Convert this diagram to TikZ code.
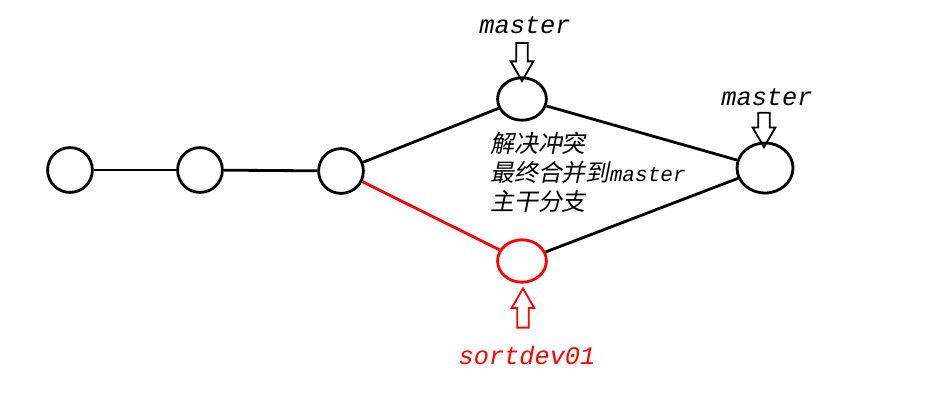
\documentclass[tikz,border=0pt]{standalone}
\usepackage{fontspec}
\setmonofont{Liberation Mono}
\newfontfamily\cjk[FakeSlant=0.2]{Noto Sans CJK SC}
\usetikzlibrary{shapes.geometric,shapes.arrows}

\tikzset{
  commit/.style={draw, ellipse, line width=2pt, inner sep=0pt, minimum width=1.12cm, minimum height=1.12cm},
  branch/.style={font=\ttfamily\itshape\fontsize{18}{20}\selectfont},
  pointer/.style={draw, single arrow, line width=1.3pt, inner sep=0.12cm,
    minimum height=0.95cm, minimum width=0.53cm, single arrow head extend=0.14cm,
    single arrow tip angle=60}
}

\begin{document}
\begin{tikzpicture}[x=0.025cm, y=-0.025cm]
            \useasboundingbox (0,0) rectangle (950,400);

            % Commits
            \node[commit] (c1) at (70,170) {};
            \node[commit] (c2) at (200,170) {};
            \node[commit] (c3) at (341,171) {};
            \node[commit, minimum width=1.22cm, minimum height=1.06cm] (top) at (522,99) {};
            \node[commit, draw=red, minimum width=1.22cm, minimum height=1.06cm] (dev) at (522,261) {};
            \node[commit, minimum width=1.4cm, minimum height=1.25cm] (merge) at (765,168) {};

            % Edges
            \draw[line width=2pt] (c1) -- (c2);
            \draw[line width=2pt] (c2) -- (c3);
            \draw[line width=2pt] (c3) -- (top);
            \draw[line width=2pt] (top) -- (merge);
            \draw[line width=2pt, red] (c3) -- (dev);
            \draw[line width=2pt] (dev) -- (merge);

            % Branch pointers
            \node[pointer, rotate=-90] (ptop) at (522,57) {};
            \node[pointer, rotate=-90, minimum height=0.86cm] (pmerge) at (764,125) {};
            \node[pointer, rotate=90, draw=red, minimum height=0.98cm] (pdev) at (523,313) {};

            % Labels
            \node[branch] (ltop) at (525,25) {master};
            \node[branch] (lmerge) at (767,97) {master};
            \node[branch, red] (ldev) at (527,355) {sortdev01};
            \node[align=left, anchor=west, inner sep=0pt, font=\cjk\fontsize{17}{20.6}\selectfont] (note) at (490,172)
              {解决冲突\\最终合并到{\ttfamily\itshape\fontsize{15}{20.6}\selectfont master}\\主干分支};
        \end{tikzpicture}
\end{document}
